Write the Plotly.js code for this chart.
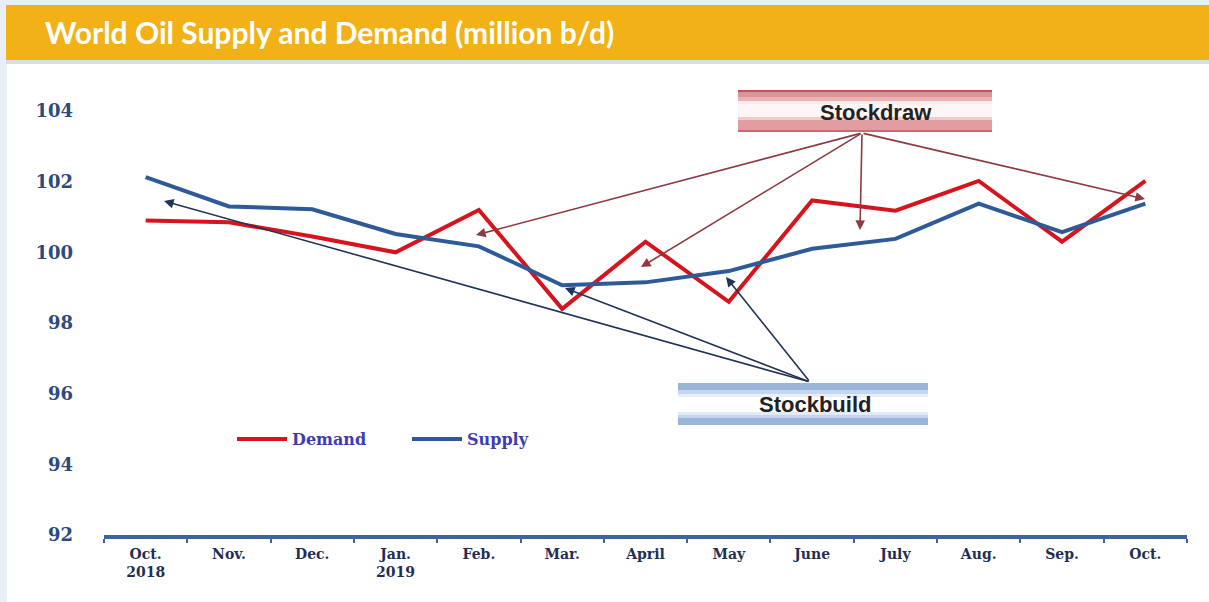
<!DOCTYPE html>
<html>
<head>
<meta charset="utf-8">
<script src="https://cdn.plot.ly/plotly-3.0.1.min.js"></script>
<style>
html,body{margin:0;padding:0;background:#E9EFF6;}
#chart{width:1209px;height:602px;}
</style>
</head>
<body>
<div id="chart"></div>
<script>
// ---- data ----
var months = ["Oct.<br>2018","Nov.","Dec.","Jan.<br>2019","Feb.","Mar.","April","May","June","July","Aug.","Sep.","Oct."];
var demand = [100.9, 100.85, 100.45, 100.0, 101.2, 98.4, 100.3, 98.6, 101.47, 101.18, 102.02, 100.3, 102.02];
var supply = [102.13, 101.3, 101.22, 100.52, 100.17, 99.07, 99.15, 99.47, 100.1, 100.38, 101.38, 100.57, 101.38];
var yTicks = [92, 94, 96, 98, 100, 102, 104];
var chartTitle = "World Oil Supply and Demand (million b/d)";

// ---- geometry helpers (pixel -> paper) ----
var L = 104, R = 1187, T = 111, B = 535;
function X(px){ return (px - L) / (R - L); }
function Y(py){ return (B - py) / (B - T); }
function rect(x0, y0, x1, y1, color){
  return {type:'rect', xref:'paper', yref:'paper', x0:X(x0), x1:X(x1), y0:Y(y1), y1:Y(y0),
          fillcolor:color, line:{width:0}, layer:'below'};
}

var shapes = [];
// white panel, header bar
shapes.push(rect(7, 62, 1209, 602, '#FFFFFF'));
shapes.push(rect(6, 60, 1209, 64, '#D6DEE8'));
shapes.push(rect(6, 5, 1209, 60, '#F2B117'));

// Stockdraw box (red stripes)
var drawStripes = [[90,92,'#C4545B'],[92,97,'#DF949A'],[97,101,'#EBB3B6'],[101,104,'#FAEBEC'],[104,117,'#FEF6F6'],[117,120,'#F2CACC'],[120,130,'#E29DA1'],[130,132,'#CC6870']];
drawStripes.forEach(function(s){ shapes.push(rect(738, s[0], 992, s[1], s[2])); });
// Stockbuild box (blue stripes)
var buildStripes = [[383,390,'#9AB4DA'],[390,394,'#C6D6EC'],[394,397,'#E8EFF8'],[397,412,'#FFFFFF'],[412,415,'#E3EBF6'],[415,418,'#C3D4EB'],[418,425,'#9AB4DA']];
buildStripes.forEach(function(s){ shapes.push(rect(678, s[0], 928, s[1], s[2])); });

var annotations = [];
annotations.push({xref:'paper', yref:'paper', x:X(876), y:Y(112), xanchor:'center', yanchor:'middle', text:'Stockdraw', showarrow:false,
  font:{family:'Liberation Sans, Arial', size:22, color:'#222222', weight:'bold'}});
annotations.push({xref:'paper', yref:'paper', x:X(815), y:Y(404), xanchor:'center', yanchor:'middle', text:'Stockbuild', showarrow:false,
  font:{family:'Liberation Sans, Arial', size:22, color:'#222222', weight:'bold'}});

function arrow(tx, ty, hx, hy, color){
  return {xref:'paper', yref:'paper', x:X(hx), y:Y(hy), ax:tx - hx, ay:ty - hy, text:'',
          showarrow:true, arrowhead:2, arrowsize:1.2, arrowwidth:1.6, arrowcolor:color, standoff:0, startstandoff:0};
}
var drawCol = '#8E3A40', buildCol = '#1F3456';
annotations.push(arrow(862, 133, 476, 235, drawCol));
annotations.push(arrow(862, 133, 641, 267, drawCol));
annotations.push(arrow(862, 133, 860, 230, drawCol));
annotations.push(arrow(862, 133, 1145, 199, drawCol));
annotations.push(arrow(810, 382, 164, 201, buildCol));
annotations.push(arrow(810, 382, 565, 288, buildCol));
annotations.push(arrow(810, 382, 726, 277, buildCol));

var traces = [
  {type:'scatter', mode:'lines', name:'Demand', x:months, y:demand, line:{color:'#D7141E', width:4}},
  {type:'scatter', mode:'lines', name:'Supply', x:months, y:supply, line:{color:'#2E5B97', width:4}}
];

var layout = {
  width:1209, height:602,
  margin:{l:L, r:1209-R, t:T, b:602-B, pad:0},
  paper_bgcolor:'#E9EFF6',
  plot_bgcolor:'rgba(0,0,0,0)',
  hovermode:false,
  title:{text:chartTitle, xref:'container', yref:'container', x:45/1209, xanchor:'left', y:1-33/602, yanchor:'middle',
         font:{family:'Lato, Open Sans, sans-serif', size:30, color:'#FFFFFF', weight:'bold'}},
  xaxis:{type:'category', range:[-0.5, 12.5], showgrid:false, zeroline:false,
         showline:true, linecolor:'#3D63A0', linewidth:4,
         ticks:'outside', tickson:'boundaries', ticklen:4, tickwidth:2, tickcolor:'#3D63A0',
         ticklabelstandoff:3,
         tickfont:{family:'DejaVu Serif, Liberation Serif, serif', size:14, color:'#1F2F52', weight:'bold'}},
  yaxis:{range:[92, 104], tickvals:yTicks, ticktext:yTicks.map(String), showgrid:false, zeroline:false, showline:false,
         ticks:'', ticklabelstandoff:30,
         tickfont:{family:'DejaVu Serif, Liberation Serif, serif', size:18, color:'#2D4A7C', weight:'bold'}},
  showlegend:true,
  legend:{orientation:'h', x:X(232), y:Y(439), xanchor:'left', yanchor:'middle', bgcolor:'rgba(0,0,0,0)',
          itemwidth:50, entrywidth:110, entrywidthmode:'pixels',
          font:{family:'DejaVu Serif, Liberation Serif, serif', size:16, color:'#3D3DAE', weight:'bold'}},
  shapes:shapes,
  annotations:annotations
};

Plotly.newPlot('chart', traces, layout, {displayModeBar:false, staticPlot:true});
</script>
</body>
</html>
